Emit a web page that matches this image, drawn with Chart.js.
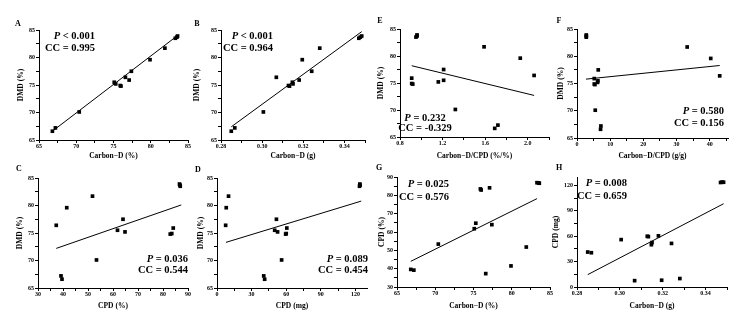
<!DOCTYPE html>
<html><head><meta charset="utf-8">
<script src="https://cdn.jsdelivr.net/npm/chart.js@4.4.0/dist/chart.umd.min.js"></script>
<style>
html,body{margin:0;padding:0;background:#fff;}
#wrap{position:relative;width:739px;height:320px;overflow:hidden;background:#fff;}
canvas{position:absolute;}
.t{position:absolute;font-family:"Liberation Serif","Times New Roman",serif;font-weight:bold;color:#000;white-space:nowrap;line-height:1;}
.lab{font-size:8px;transform:translate(-50%,-50%);}
.ann{font-size:10.5px;}
.r{transform:translate(-100%,-50%);}
.c{transform:translate(-50%,-50%);}
</style></head><body><div id="wrap"></div>
<script>
// ---- per-sample values ----
const carbonDPct = [66.8, 67.2, 70.4, 75.1, 75.3, 75.9, 76.0, 76.6, 77.1, 77.4, 79.9, 81.9, 83.3, 83.5, 83.6];
const carbonDg   = [0.2850, 0.2867, 0.3006, 0.3147, 0.3150, 0.3128, 0.3133, 0.3069, 0.3180, 0.3241, 0.3195, 0.3280, 0.3470, 0.3477, 0.3484];
const cpdPct     = [39.6, 39.2, 53.4, 61.8, 64.8, 83.5, 82.9, 37.3, 84.1, 64.0, 41.5, 51.8, 86.9, 86.8, 86.6];
const cpdMg      = [41.3, 40.5, 56.0, 50.0, 52.5, 60.0, 59.5, 7.5, 60.5, 51.5, 8.0, 10.0, 123.5, 124.0, 123.8];
const ratioPct   = [1.69, 1.72, 1.32, 1.21, 1.16, 0.91, 0.92, 2.06, 0.91, 1.21, 1.93, 1.59, 0.95, 0.96, 0.96];
const ratioG     = [7.1, 7.2, 5.5, 6.3, 6.2, 5.2, 5.4, 43.0, 5.2, 6.4, 40.3, 33.2, 2.8, 2.8, 2.8];
const dmdPct     = [66.6, 67.2, 70.1, 75.5, 75.2, 74.9, 74.8, 76.4, 75.9, 77.5, 79.6, 81.7, 83.5, 83.7, 83.9];

// ---- fitted regression lines (end points) ----
const fitA = [[66.6, 66.4], [83.7, 84.1]];
const fitB = [[0.2850, 67.4], [0.3484, 84.7]];
const fitE = [[0.91, 78.2], [2.06, 72.7]];
const fitF = [[2.7, 75.8], [43.0, 78.3]];
const fitC = [[37.3, 72.2], [87.3, 80.1]];
const fitD = [[7.8, 73.3], [125.0, 80.8]];
const fitG = [[66.8, 44.0], [83.3, 78.2]];
const fitH = [[0.2850, 14.6], [0.3484, 98.4]];

// ---- tick labels ----
const ticksCarbonPct = ['65', '70', '75', '80', '85'];
const ticksDmd       = ['65', '70', '75', '80', '85'];
const ticksCarbonG   = ['0.28', '0.30', '0.32', '0.34'];
const ticksRatioPct  = ['0.8', '1.2', '1.6', '2.0'];
const ticksRatioG    = ['0', '10', '20', '30', '40'];
const ticksCpdPctX   = ['30', '40', '50', '60', '70', '80', '90'];
const ticksCpdMgX    = ['0', '30', '60', '90', '120'];
const ticksCpdPctY   = ['30', '40', '50', '60', '70', '80', '90'];
const ticksCpdMgY    = ['0', '30', '60', '90', '120'];

// ---- panel texts ----
const panelLetters = ['A', 'B', 'E', 'F', 'C', 'D', 'G', 'H'];
const statP  = ['< 0.001', '< 0.001', '= 0.232', '= 0.580', '= 0.036', '= 0.089', '= 0.025', '= 0.008'];
const statCC = ['= 0.995', '= 0.964', '= -0.329', '= 0.156', '= 0.544', '= 0.454', '= 0.576', '= 0.659'];

const FONT = '"Liberation Serif", "Times New Roman", serif';
const wrap = document.getElementById('wrap');

function pts(xs, ys) { return xs.map((x, i) => ({x: x, y: ys[i]})); }
function line(f) { return f.map(p => ({x: p[0], y: p[1]})); }

function tickList(labels, min, max) {
  const vals = labels.map(Number);
  const step = vals[1] - vals[0];
  const out = [];
  vals.forEach(v => out.push(v));
  vals.forEach(v => { const m = v + step / 2; if (m <= max + 1e-9) out.push(m); });
  const first = vals[0] - step / 2; if (first >= min - 1e-9) out.push(first);
  out.sort((a, b) => a - b);
  return out;
}

function axis(labels, min, max, title, isX, size) {
  const vals = labels.map(Number);
  return {
    type: 'linear', min: min, max: max,
    afterBuildTicks: s => { s.ticks = tickList(labels, min, max).map(v => ({value: v})); },
    afterFit: s => { if (isX) s.height = size; else s.width = size; },
    ticks: {
      autoSkip: false, maxRotation: 0, minRotation: 0, color: '#000',
      padding: isX ? 0 : 1,
      font: {family: FONT, size: 6, weight: 'bold'},
      callback: v => { const i = vals.findIndex(t => Math.abs(t - v) < 1e-9); return i >= 0 ? labels[i] : ''; }
    },
    grid: {drawOnChartArea: false, drawTicks: true, tickLength: 3, color: '#000', lineWidth: 1},
    border: {display: true, color: '#000', width: 1},
    title: {display: true, text: title, color: '#000', padding: 0, font: {family: FONT, size: 7.5, weight: 'bold'}}
  };
}

const panels = [
  {x0: 17,  y0: 0,   w: 178, h: 161, L: 39,  R: 188, T: 30,  B: 140, xs: carbonDPct, ys: dmdPct, fit: fitA,
   xl: ticksCarbonPct, xmin: 65, xmax: 85, xt: 'Carbon\u2212D (%)', yl: ticksDmd, ymin: 65, ymax: 85, yt: 'DMD (%)'},
  {x0: 193, y0: 0,   w: 179, h: 161, L: 221, R: 365, T: 30,  B: 140, xs: carbonDg, ys: dmdPct, fit: fitB,
   xl: ticksCarbonG, xmin: 0.28, xmax: 0.35, xt: 'Carbon\u2212D (g)', yl: ticksDmd, ymin: 65, ymax: 85, yt: 'DMD (%)'},
  {x0: 377, y0: 0,   w: 180, h: 161, L: 400, R: 549, T: 29,  B: 137, xs: ratioPct, ys: dmdPct, fit: fitE,
   xl: ticksRatioPct, xmin: 0.8, xmax: 2.2, xt: 'Carbon\u2212D/CPD (%/%)', yl: ticksDmd, ymin: 65, ymax: 85, yt: 'DMD (%)'},
  {x0: 557, y0: 0,   w: 182, h: 161, L: 577, R: 728, T: 29,  B: 138, xs: ratioG, ys: dmdPct, fit: fitF,
   xl: ticksRatioG, xmin: 0, xmax: 45.5, xt: 'Carbon\u2212D/CPD (g/g)', yl: ticksDmd, ymin: 65, ymax: 85, yt: 'DMD (%)'},
  {x0: 16,  y0: 165, w: 179, h: 146, L: 38,  R: 188, T: 178, B: 288, xs: cpdPct, ys: dmdPct, fit: fitC,
   xl: ticksCpdPctX, xmin: 30, xmax: 90, xt: 'CPD (%)', yl: ticksDmd, ymin: 65, ymax: 85, yt: 'DMD (%)'},
  {x0: 197, y0: 165, w: 178, h: 146, L: 217, R: 367, T: 178, B: 288, xs: cpdMg, ys: dmdPct, fit: fitD,
   xl: ticksCpdMgX, xmin: 0, xmax: 130, xt: 'CPD (mg)', yl: ticksDmd, ymin: 65, ymax: 85, yt: 'DMD (%)'},
  {x0: 378, y0: 165, w: 179, h: 146, L: 397, R: 550, T: 177, B: 287, xs: carbonDPct, ys: cpdPct, fit: fitG,
   xl: ticksCarbonPct, xmin: 65, xmax: 85, xt: 'Carbon\u2212D (%)', yl: ticksCpdPctY, ymin: 30, ymax: 90, yt: 'CPD (%)'},
  {x0: 552, y0: 165, w: 187, h: 146, L: 577, R: 727, T: 177, B: 287, xs: carbonDg, ys: cpdMg, fit: fitH,
   xl: ticksCarbonG, xmin: 0.28, xmax: 0.35, xt: 'Carbon\u2212D (g)', yl: ticksCpdMgY, ymin: 0, ymax: 130, yt: 'CPD (mg)'}
];

panels.forEach(p => {
  const cv = document.createElement('canvas');
  cv.width = p.w; cv.height = p.h;
  cv.style.left = p.x0 + 'px'; cv.style.top = p.y0 + 'px';
  cv.style.width = p.w + 'px'; cv.style.height = p.h + 'px';
  wrap.appendChild(cv);
  new Chart(cv.getContext('2d'), {
    type: 'scatter',
    data: {datasets: [
      {data: pts(p.xs, p.ys), pointStyle: 'rect', pointRadius: 2.6, backgroundColor: '#000', borderColor: '#000', borderWidth: 0, showLine: false},
      {data: line(p.fit), showLine: true, pointRadius: 0, borderColor: '#000', borderWidth: 1, fill: false}
    ]},
    options: {
      responsive: false, animation: false, devicePixelRatio: 1,
      plugins: {legend: {display: false}, tooltip: {enabled: false}},
      layout: {padding: {left: 0, top: p.T - p.y0, right: p.x0 + p.w - p.R, bottom: 0}},
      scales: {
        x: axis(p.xl, p.xmin, p.xmax, p.xt, true, p.y0 + p.h - p.B),
        y: axis(p.yl, p.ymin, p.ymax, p.yt, false, p.L - p.x0)
      }
    }
  });
});

// panel letters and statistics (text positions)
const letterPos = [[18, 24], [197, 24], [380, 21], [559, 21], [19, 169], [198, 170], [379, 168], [559, 168]];
const statPos = [
  {a: 'r', p: [95, 36],  c: [95, 48]},
  {a: 'r', p: [273, 36], c: [273, 48]},
  {a: 'c', p: [425, 118], c: [425, 128]},
  {a: 'r', p: [724, 111], c: [724, 123]},
  {a: 'r', p: [188, 259], c: [188, 270]},
  {a: 'r', p: [368, 259], c: [368, 270]},
  {a: 'r', p: [449, 184], c: [449, 197]},
  {a: 'r', p: [627, 183], c: [627, 196]}
];
function addText(html, cls, x, y) {
  const d = document.createElement('div');
  d.className = 't ' + cls;
  d.style.left = x + 'px'; d.style.top = y + 'px';
  d.innerHTML = html;
  wrap.appendChild(d);
}
panelLetters.forEach((l, i) => {
  addText(l, 'lab', letterPos[i][0], letterPos[i][1]);
  const s = statPos[i];
  addText('<i>P</i> ' + statP[i].replace('<', '&lt;'), 'ann ' + s.a, s.p[0], s.p[1]);
  addText('CC ' + statCC[i], 'ann ' + s.a, s.c[0], s.c[1]);
});
</script></body></html>
